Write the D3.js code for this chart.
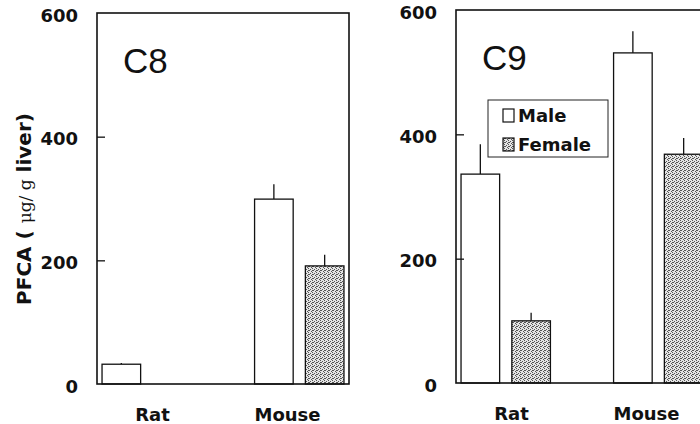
<!DOCTYPE html>
<html>
<head>
<meta charset="utf-8">
<script src="https://cdn.jsdelivr.net/npm/d3@7"></script>
<style>
    body { margin: 0; background: #fff; }
    text { font-family: "DejaVu Sans", sans-serif; fill: #111; }
</style>
</head>
<body>
<div id="chart"></div>
<script>
// liver PFCA, male vs female, rat vs mouse (C8 and C9 panels)

const width = 700,
    height = 424;

const species = ["Rat", "Mouse"];
const sexes = ["Male", "Female"];
const yTicks = [0, 200, 400, 600];

// values (null = no bar)
const c8Male = [32, 299];
const c8MaleErr = [2, 24];
const c8Female = [null, 191];
const c8FemaleErr = [null, 18];

const c9Male = [336, 531];
const c9MaleErr = [48, 35];
const c9Female = [100, 368];
const c9FemaleErr = [13, 26];

const panels = [
    { name: "C8", male: c8Male, maleErr: c8MaleErr, female: c8Female, femaleErr: c8FemaleErr,
      left: 97, top: 13, bottom: 384, legend: false },
    { name: "C9", male: c9Male, maleErr: c9MaleErr, female: c9Female, femaleErr: c9FemaleErr,
      left: 456, top: 10, bottom: 383, legend: true }
];
const panelWidth = 252;

let svg = d3.select("#chart")
    .append("svg")
    .attr("width", width)
    .attr("height", height);

// stippled fill for female bars
let pat = svg.append("defs").append("pattern")
    .attr("id", "stipple")
    .attr("patternUnits", "userSpaceOnUse")
    .attr("width", 4)
    .attr("height", 4);
pat.append("rect").attr("width", 4).attr("height", 4).attr("fill", "#e4e4e4");
for (let [dx, dy] of [[0, 0], [2, 1], [1, 2], [3, 3], [0, 2]]) {
    pat.append("rect").attr("x", dx).attr("y", dy).attr("width", 1).attr("height", 1).attr("fill", "#555");
}

const fills = { Male: "#fff", Female: "url(#stipple)" };

for (let p of panels) {
    let g = svg.append("g");

    let y = d3.scaleLinear()
        .domain([0, 600])
        .range([p.bottom, p.top]);

    let x0 = d3.scaleBand()
        .domain(species)
        .range([p.left, p.left + panelWidth])
        .paddingInner(0.414)
        .paddingOuter(0.033);

    let x1 = d3.scaleBand()
        .domain(sexes)
        .range([0, x0.bandwidth()])
        .paddingInner(0.24);

    // labels sit a little off the group centres in the original
    let xLabel = d3.scalePoint()
        .domain(species)
        .range([p.left + 55, p.left + 190]);

    let rows = [];
    species.forEach((s, i) => {
        rows.push({ sp: s, sex: "Male", v: p.male[i], e: p.maleErr[i] });
        rows.push({ sp: s, sex: "Female", v: p.female[i], e: p.femaleErr[i] });
    });
    rows = rows.filter(d => d.v != null);

    // error bars (upper only, no cap)
    g.selectAll(".err")
        .data(rows)
        .join("line")
        .attr("x1", d => x0(d.sp) + x1(d.sex) + x1.bandwidth() / 2)
        .attr("x2", d => x0(d.sp) + x1(d.sex) + x1.bandwidth() / 2)
        .attr("y1", d => y(d.v))
        .attr("y2", d => y(d.v + d.e))
        .attr("stroke", "#111")
        .attr("stroke-width", 1.3);

    g.selectAll(".bar")
        .data(rows)
        .join("rect")
        .attr("x", d => x0(d.sp) + x1(d.sex))
        .attr("y", d => y(d.v))
        .attr("width", x1.bandwidth())
        .attr("height", d => y(0) - y(d.v))
        .attr("fill", d => fills[d.sex])
        .attr("stroke", "#111")
        .attr("stroke-width", 1.3);

    // frame
    g.append("rect")
        .attr("x", p.left)
        .attr("y", p.top)
        .attr("width", panelWidth)
        .attr("height", p.bottom - p.top)
        .attr("fill", "none")
        .attr("stroke", "#111")
        .attr("stroke-width", 1.6);

    // y axis, inward ticks
    let yAxis = g.append("g")
        .attr("transform", `translate(${p.left},0)`)
        .call(d3.axisLeft(y).tickValues(yTicks).tickSize(-8).tickPadding(19).tickSizeOuter(0));
    yAxis.select(".domain").remove();
    yAxis.selectAll("line").attr("stroke", "#111").attr("stroke-width", 1.3)
        .filter(d => d === 0 || d === 600).remove();
    yAxis.selectAll("text")
        .attr("dy", "0.45em")
        .style("font-size", "18px")
        .style("font-weight", "bold")
        .style("font-family", "DejaVu Sans, sans-serif");

    // category labels
    let xAxis = g.append("g")
        .attr("transform", `translate(0,${p.bottom})`)
        .call(d3.axisBottom(xLabel).tickSize(0).tickPadding(24));
    xAxis.select(".domain").remove();
    xAxis.selectAll("text")
        .style("font-size", "18px")
        .style("font-weight", "bold")
        .style("font-family", "DejaVu Sans, sans-serif");

    // panel title
    g.append("text")
        .attr("x", p.left + 26)
        .attr("y", p.top + 60)
        .style("font-family", "Liberation Sans, Arial, sans-serif")
        .style("font-size", "35px")
        .text(p.name);

    if (p.legend) {
        let lg = g.append("g").attr("transform", `translate(${p.left + 32},${p.top + 90})`);
        lg.append("rect")
            .attr("width", 120)
            .attr("height", 57)
            .attr("fill", "#fff")
            .attr("stroke", "#222")
            .attr("stroke-width", 1);
        sexes.forEach((s, i) => {
            lg.append("rect")
                .attr("x", 15)
                .attr("y", 9 + i * 29)
                .attr("width", 11)
                .attr("height", 13)
                .attr("fill", fills[s])
                .attr("stroke", "#111")
                .attr("stroke-width", 1.2);
            lg.append("text")
                .attr("x", 30)
                .attr("y", 22 + i * 29)
                .style("font-size", "18px")
                .style("font-weight", "bold")
                .text(s);
        });
    }
}

// y label (only on the left panel)
let yl = svg.append("text")
    .attr("transform", "rotate(-90)")
    .attr("x", -209)
    .attr("y", 31)
    .attr("text-anchor", "middle")
    .style("font-size", "20px")
    .style("font-weight", "bold");
yl.append("tspan").text("PFCA ( ");
yl.append("tspan").style("font-weight", "normal").style("font-size", "17px")
    .style("font-family", "DejaVu Serif, serif").text("μg/ g");
yl.append("tspan").text(" liver)");
</script>
</body>
</html>
